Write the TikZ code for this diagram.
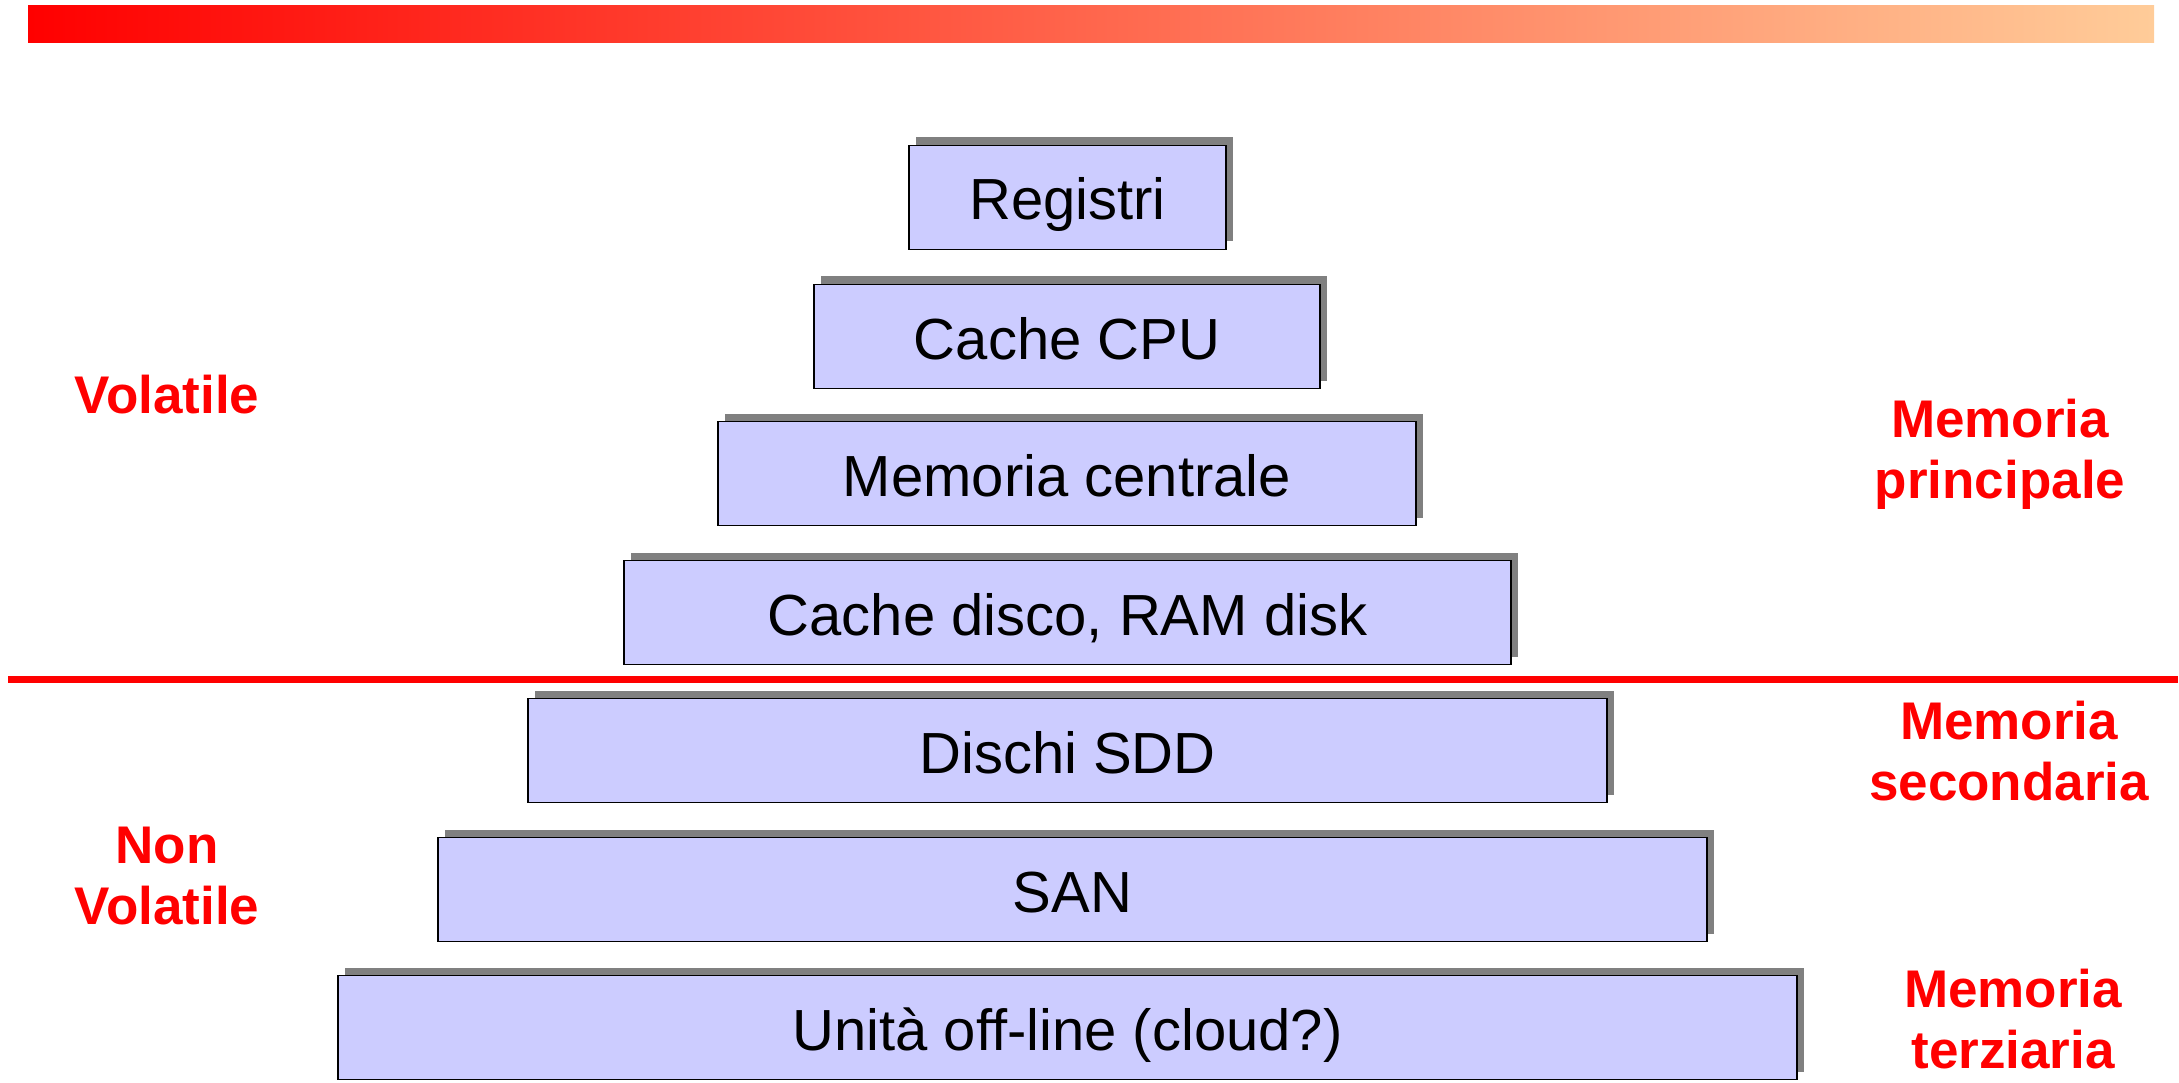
\documentclass[tikz,border=0pt]{standalone}
\usepackage{fontspec}
\setmainfont{Liberation Sans}
\usetikzlibrary{shadows}
\definecolor{lilla}{RGB}{204,204,255}
\definecolor{pesca}{RGB}{255,204,153}
\definecolor{ombra}{RGB}{128,128,128}
\tikzset{
  livello/.style={draw=black, line width=1.2pt, fill=lilla, minimum height=104pt,
    text height=45pt, text depth=0pt, inner sep=0pt, font=\fontsize{58}{66}\selectfont,
    drop shadow={shadow xshift=7pt, shadow yshift=8pt, fill=ombra, opacity=1}},
  etichetta/.style={text=red, font=\fontsize{53}{61}\selectfont\bfseries,
    align=center, anchor=base, inner sep=0pt}
}

\begin{document}
\begin{tikzpicture}[x=1pt, y=-1pt]
\useasboundingbox (0,0) rectangle (2179,1083);
\shade[left color=red, right color=pesca] (28,6) rectangle (2154,43);
\coordinate (sx) at (8,679.5);
\coordinate (dx) at (2178,679.5);
\draw[red, line width=7pt] (sx) -- (dx);

\node[livello, minimum width=317] (registri) at (1067.5,197.5) {Registri};
\node[livello, minimum width=506] (cachecpu) at (1067,336.5) {Cache CPU};
\node[livello, minimum width=698] (memcentrale) at (1067,473.5) {Memoria centrale};
\node[livello, minimum width=887] (cachedisco) at (1067.5,612.5) {Cache disco, RAM disk};
\node[livello, minimum width=1079] (dischi) at (1067.5,750.5) {Dischi SDD};
\node[livello, minimum width=1269] (san) at (1072.5,889.5) {SAN};
\node[livello, minimum width=1459] (offline) at (1067.5,1027.5) {Unità off-line (cloud?)};

\node[etichetta] (volatile) at (167,413) {Volatile};
\node[etichetta] (nonvolatile) at (167,924) {Non\\Volatile};
\node[etichetta] (mprincipale) at (2000,498) {Memoria\\principale};
\node[etichetta] (msecondaria) at (2009,800) {Memoria\\secondaria};
\node[etichetta] (mterziaria) at (2013,1068) {Memoria\\terziaria};
\end{tikzpicture}
\end{document}
